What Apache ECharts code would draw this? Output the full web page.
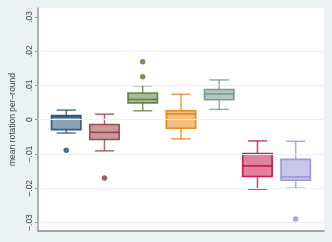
<!DOCTYPE html>
<html>
<head>
<meta charset="utf-8">
<script src="https://cdn.jsdelivr.net/npm/echarts@6/dist/echarts.min.js"></script>
<style>
html,body{margin:0;padding:0;background:#EAF2F3;}
#c{width:332px;height:242px;}
</style>
</head>
<body>
<div id="c"></div>
<script>
// group positions
var groups = [1, 2, 3, 4, 5, 6, 7];
// box statistics
var whiskerLow  = [-0.0039, -0.0091, 0.0026, -0.0056, 0.0030, -0.0203, -0.0200];
var q1          = [-0.0029, -0.0058, 0.0049, -0.0025, 0.0058, -0.0166, -0.0177];
var medians     = [ 0.0008, -0.0037, 0.0059,  0.0017, 0.0075, -0.0135, -0.0167];
var q3          = [ 0.0012, -0.0014, 0.0078,  0.0026, 0.0088, -0.0099, -0.0116];
var whiskerHigh = [ 0.0028,  0.0016, 0.0099,  0.0074, 0.0116, -0.0062, -0.0063];
// outliers: [group, value]
var outliers = [[1, -0.0089], [2, -0.0170], [3, 0.0169], [3, 0.0125], [7, -0.0290]];
// y tick labels
var yTicks = [-0.03, -0.02, -0.01, 0, 0.01, 0.02, 0.03];
var yTickLabels = ['–.03', '–.02', '–.01', '0', '.01', '.02', '.03'];
var gridValues = [-0.03, -0.02, -0.01, 0, 0.01, 0.02];

var colors = ['#1a476f', '#90353b', '#55752f', '#e37e00', '#6e8e84', '#c10534', '#938dd2'];

function rgba(hex, a) {
  var r = parseInt(hex.slice(1, 3), 16), g = parseInt(hex.slice(3, 5), 16), b = parseInt(hex.slice(5, 7), 16);
  return 'rgba(' + r + ',' + g + ',' + b + ',' + a + ')';
}

var boxData = groups.map(function (g, i) {
  return [g, whiskerLow[i], q1[i], medians[i], q3[i], whiskerHigh[i]];
});
var outlierData = outliers.map(function (o) {
  return { value: o, itemStyle: { color: colors[o[0] - 1] } };
});

var chart = echarts.init(document.getElementById('c'), null, { renderer: 'canvas' });
chart.setOption({
  backgroundColor: '#EAF2F3',
  animation: false,
  grid: { left: 31, right: 8, top: 8, bottom: 11, show: true, backgroundColor: '#ffffff', borderWidth: 0 },
  xAxis: {
    type: 'value', min: 0.26, max: 7.74,
    axisLine: { show: true, onZero: false, lineStyle: { color: '#8a8a8a', width: 1.5 } },
    axisTick: { show: false }, axisLabel: { show: false }, splitLine: { show: false }
  },
  yAxis: {
    type: 'value', min: -0.0325, max: 0.0326,
    name: 'mean rotation per–round', nameLocation: 'middle', nameGap: 14, nameRotate: 90,
    nameTextStyle: { color: '#444', fontSize: 8.5, fontFamily: 'Liberation Sans' },
    axisLine: { show: true, lineStyle: { color: '#9a9a9a', width: 1.5 } },
    axisTick: { show: true, length: 3, customValues: yTicks, lineStyle: { color: '#9a9a9a' } },
    axisLabel: {
      customValues: yTicks, rotate: 90, margin: 4, fontSize: 8.5, color: '#444', fontFamily: 'Liberation Sans',
      formatter: function (v) {
        for (var i = 0; i < yTicks.length; i++) if (Math.abs(yTicks[i] - v) < 1e-9) return yTickLabels[i];
        return '';
      }
    },
    splitLine: { show: false }
  },
  series: [
    {
      type: 'scatter', z: 3, symbol: 'circle', symbolSize: 5.5,
      data: outlierData,
      markLine: {
        silent: true, symbol: 'none', label: { show: false }, animation: false,
        lineStyle: { color: '#EAF0F2', width: 1, type: 'solid' },
        data: gridValues.map(function (v) { return { yAxis: v }; })
      }
    },
    {
      type: 'custom', z: 4,
      encode: { x: 0, y: [1, 2, 3, 4, 5] },
      data: boxData,
      renderItem: function (params, api) {
        var i = params.dataIndex;
        var x = api.value(0);
        var pLo = api.coord([x, api.value(1)]);
        var pQ1 = api.coord([x, api.value(2)]);
        var pMed = api.coord([x, api.value(3)]);
        var pQ3 = api.coord([x, api.value(4)]);
        var pHi = api.coord([x, api.value(5)]);
        var unit = api.size([1, 0])[0];
        var half = unit * 0.385, cap = unit * 0.25;
        var col = colors[i];
        var wStyle = { stroke: rgba(col, 0.75), lineWidth: 1.5 };
        var bStyle = { stroke: rgba(col, 0.85), lineWidth: 1.6 };
        var cx = pQ1[0];
        return {
          type: 'group',
          children: [
            { type: 'line', shape: { x1: cx, y1: pHi[1], x2: cx, y2: pQ3[1] }, style: wStyle },
            { type: 'line', shape: { x1: cx, y1: pLo[1], x2: cx, y2: pQ1[1] }, style: wStyle },
            { type: 'line', shape: { x1: cx - cap, y1: pHi[1], x2: cx + cap, y2: pHi[1] }, style: wStyle },
            { type: 'line', shape: { x1: cx - cap, y1: pLo[1], x2: cx + cap, y2: pLo[1] }, style: wStyle },
            { type: 'rect', shape: { x: cx - half, y: pQ3[1], width: half * 2, height: pQ1[1] - pQ3[1] },
              style: { fill: rgba(col, 0.5), stroke: rgba(col, 0.85), lineWidth: 1.6 } },
            { type: 'line', shape: { x1: cx - half, y1: pMed[1], x2: cx + half, y2: pMed[1] }, style: bStyle }
          ]
        };
      }
    }
  ]
});
</script>
</body>
</html>
